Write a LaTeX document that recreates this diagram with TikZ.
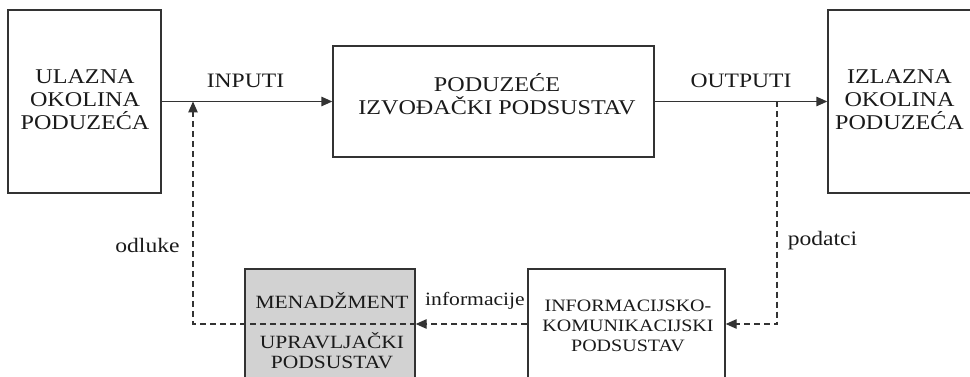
\documentclass[tikz,border=0pt]{standalone}
\usepackage{fontspec}
\setmainfont{Liberation Serif}[FakeStretch=1.15]
\usetikzlibrary{arrows.meta}
\definecolor{ink}{HTML}{1A1A1A}
\definecolor{linec}{HTML}{333333}
\definecolor{mgray}{HTML}{D2D2D2}
\begin{document}
\begin{tikzpicture}[x=1pt,y=-1pt,
  box/.style={draw=linec,line width=1.4pt,rectangle,inner sep=0pt},
  txt/.style={anchor=base,inner sep=0pt,text=ink,font=\fontsize{21}{23}\selectfont},
  smalltxt/.style={txt,font=\fontsize{17.4}{20}\selectfont},
  mtxt/.style={txt,font=\fontsize{18.7}{21}\selectfont},
  labtxt/.style={txt,font=\fontsize{20.5}{23}\selectfont},
  tip/.style={-{Triangle[length=11pt,width=9.5pt]}},
  flow/.style={draw=linec,line width=1.4pt,tip},
  fb/.style={draw=linec,line width=1.2pt,dash pattern=on 6pt off 4pt,tip}
]
\path[use as bounding box] (0,0) rectangle (970,377);
\clip (0,0) rectangle (970,377);

% boxes
\node[box,minimum width=153pt,minimum height=183pt] (lbox) at (84.5,101.5) {};
\node[box,minimum width=321pt,minimum height=111pt] (cbox) at (493.5,101.5) {};
\node[box,minimum width=146pt,minimum height=183pt] (rbox) at (901,101.5) {};
\node[box,fill=mgray,minimum width=170pt,minimum height=150pt] (mbox) at (330,344) {};
\node[box,minimum width=197pt,minimum height=150pt] (ibox) at (626.5,344) {};

% box texts
\node[txt] (l1) at (85,84) {ULAZNA};
\node[txt] (l2) at (85,107) {OKOLINA};
\node[txt] (l3) at (85,130) {PODUZEĆA};
\node[txt] (c1) at (497,92) {PODUZEĆE};
\node[txt] (c2) at (497,115) {IZVOĐAČKI PODSUSTAV};
\node[txt] (r1) at (899.5,84) {IZLAZNA};
\node[txt] (r2) at (899.5,107) {OKOLINA};
\node[txt] (r3) at (899.5,130) {PODUZEĆA};
\node[mtxt] (m1) at (332,308) {MENADŽMENT};
\node[mtxt] (m2) at (332,348) {UPRAVLJAČKI};
\node[mtxt] (m3) at (332,368) {PODSUSTAV};
\node[smalltxt] (i1) at (628,311) {INFORMACIJSKO-};
\node[smalltxt] (i2) at (628,331) {KOMUNIKACIJSKI};
\node[smalltxt] (i3) at (628,351) {PODSUSTAV};

% labels
\node[labtxt] (inp) at (245.5,88) {INPUTI};
\node[labtxt] (outp) at (741,88) {OUTPUTI};
\node[labtxt] (odl) at (147.5,252) {odluke};
\node[labtxt] (pod) at (822.5,245) {podatci};
\node[txt,font=\fontsize{18.8}{21}\selectfont] (inf) at (475,305) {informacije};

% coordinates
\coordinate (iTap) at (193,101.5);
\coordinate (oTap) at (777,101.5);
\coordinate (fbL) at (193,324);

% connectors
\draw[flow] (lbox.east) -- (cbox.west);
\draw[flow] (cbox.east) -- (rbox.west);
\draw[fb] (oTap) |- (ibox.east |- fbL);
\draw[fb] (ibox.west |- fbL) -- (mbox.east |- fbL);
\draw[fb] (mbox.east |- fbL) -| (iTap);
\end{tikzpicture}
\end{document}
